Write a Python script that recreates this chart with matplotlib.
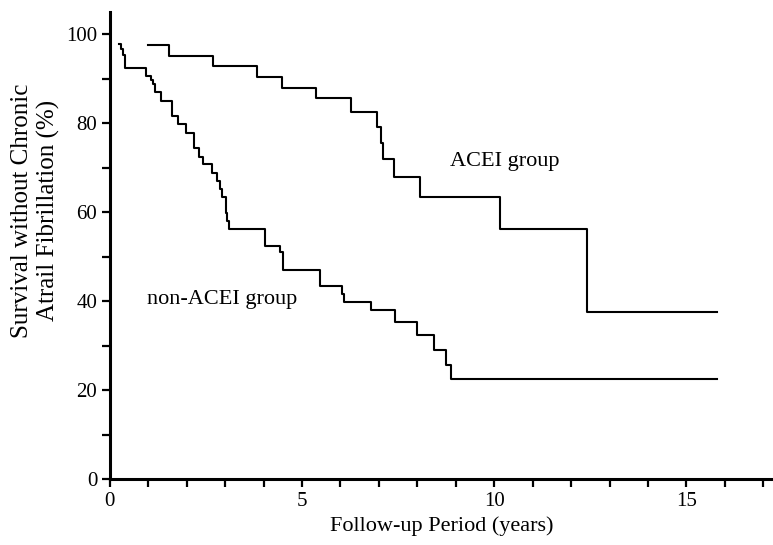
import numpy as np
import matplotlib
matplotlib.use('Agg')
import matplotlib.pyplot as plt
from matplotlib.ticker import MultipleLocator

plt.rcParams['font.family'] = ['Liberation Serif', 'DejaVu Serif']

# ACEI group: times of each step (years) and survival after it (%)
acei_t = [1.0, 1.55, 2.69, 3.82, 4.47, 5.37, 6.28, 6.94, 7.05, 7.1, 7.4, 8.07, 10.16, 12.4, 15.8]
acei_s = [97.5, 95.1, 92.9, 90.4, 88.0, 85.6, 82.6, 79.2, 75.5, 72.0, 67.9, 63.5, 56.3, 37.5, 37.5]

# non-ACEI group
non_t = [0.23, 0.30, 0.35, 0.39, 0.95, 1.06, 1.13, 1.17, 1.32, 1.61, 1.63, 1.78,
         1.98, 2.20, 2.33, 2.43, 2.67, 2.79, 2.86, 2.93, 3.02, 3.05, 3.10,
         4.04, 4.43, 4.50, 5.47, 6.03, 6.10, 6.79, 7.42, 7.99, 8.42, 8.75, 8.87, 15.8]
non_s = [97.9, 96.6, 95.4, 92.5, 90.7, 89.8, 88.9, 87.0, 85.1, 83.5, 81.6, 79.8,
         77.9, 74.4, 72.4, 70.8, 68.9, 67.0, 65.2, 63.5, 59.9, 58.1, 56.2,
         52.5, 51.0, 47.0, 43.5, 41.6, 39.8, 37.9, 35.4, 32.3, 29.1, 25.7, 22.6, 22.6]

fig = plt.figure(figsize=(7.73, 5.45), dpi=100)
ax = fig.add_axes([0.142, 0.121, 0.858, 0.857])

ax.step(acei_t, acei_s, where='post', color='black', lw=1.5)
ax.step(non_t, non_s, where='post', color='black', lw=1.5)

ax.text(8.85, 71.5, 'ACEI group', fontsize=16, va='center')
ax.text(0.98, 40.3, 'non-ACEI group', fontsize=16, va='center')

ax.set_xlim(0, 17.25)
ax.set_ylim(0, 105)
ax.xaxis.set_major_locator(MultipleLocator(5))
ax.xaxis.set_minor_locator(MultipleLocator(1))
ax.yaxis.set_major_locator(MultipleLocator(20))
ax.yaxis.set_minor_locator(MultipleLocator(10))
ax.tick_params(which='both', direction='out', width=1.6, length=6, labelsize=15, pad=3)

for s in ['top', 'right']:
    ax.spines[s].set_visible(False)
for s in ['left', 'bottom']:
    ax.spines[s].set_linewidth(2.2)

ax.set_xlabel('Follow-up Period (years)', fontsize=16)
ax.set_ylabel('Survival without Chronic\nAtrail Fibrillation (%)', fontsize=18, linespacing=1.2)
ax.yaxis.set_label_coords(-0.075, 0.575)

fig.savefig('out.png', dpi=100)
